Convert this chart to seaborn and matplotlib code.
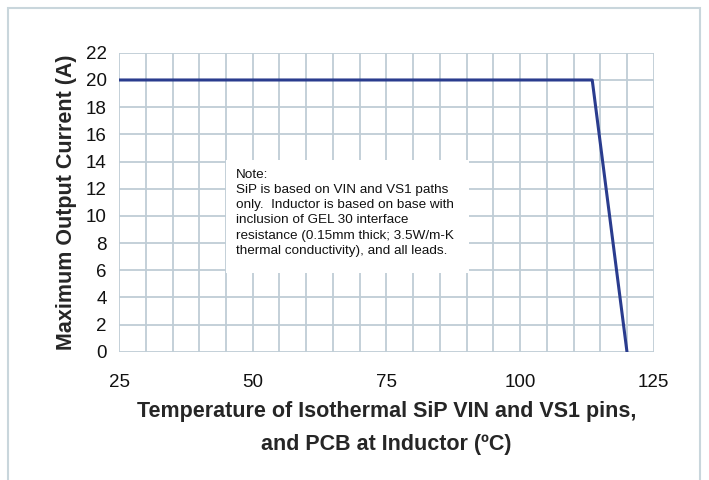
import numpy as np
import pandas as pd
import matplotlib
matplotlib.use("Agg")
import matplotlib.pyplot as plt
import seaborn as sns
from matplotlib.patches import Rectangle

# derating curve
temperature = [25, 113.5, 120]
current = [20, 20, 0]
x_ticks = [25, 50, 75, 100, 125]
y_ticks = list(range(0, 23, 2))
note_text = ("Note:\n"
             "SiP is based on VIN and VS1 paths\n"
             "only.  Inductor is based on base with\n"
             "inclusion of GEL 30 interface\n"
             "resistance (0.15mm thick; 3.5W/m-K\n"
             "thermal conductivity), and all leads.")

GRID = '#bfcdd6'
LINE = '#2a3c8e'

sns.set_style("white")
plt.rcParams['font.family'] = ['Liberation Sans', 'DejaVu Sans']

df = pd.DataFrame({"temp": temperature, "current": current})

fig = plt.figure(figsize=(7.09, 4.80), dpi=100)
ax = fig.add_axes([0.168, 0.267, 0.754, 0.623])

sns.lineplot(data=df, x="temp", y="current", ax=ax, color=LINE, linewidth=2.2)

ax.set_xlim(25, 125)
ax.set_ylim(0, 22)
ax.set_xticks(x_ticks)
ax.set_xticks(np.arange(25, 126, 5), minor=True)
ax.set_yticks(y_ticks)
ax.grid(True, which='both', color=GRID, linewidth=1.3)
ax.set_axisbelow(True)
for s in ax.spines.values():
    s.set_visible(False)
ax.tick_params(axis='both', which='both', length=5, color=GRID, width=1.3,
               labelsize=13.5, labelcolor='#111111')
ax.tick_params(axis='x', which='major', pad=11)
ax.tick_params(axis='y', which='major', pad=4)

ax.set_xlabel("Temperature of Isothermal SiP VIN and VS1 pins,\nand PCB at Inductor (ºC)",
              fontsize=15.5, fontweight='bold', labelpad=7, linespacing=1.75)
ax.set_ylabel("Maximum Output Current (A)", fontsize=15.5, fontweight='bold', labelpad=6)

# note box
box = Rectangle((226 / 709, 1 - 273 / 480), (469 - 226) / 709, (273 - 160) / 480,
                transform=fig.transFigure, facecolor='white', edgecolor='none', zorder=5)
fig.patches.append(box)
fig.text(236 / 709, 1 - 169 / 480, note_text, fontsize=9.7, va='top', ha='left',
         linespacing=1.35, color='#111111', zorder=6)

# outer frame
frame = Rectangle((8 / 709, -10 / 480), 692 / 709, 482 / 480, transform=fig.transFigure,
                  facecolor='none', edgecolor='#c9d6dc', linewidth=1.5)
fig.patches.append(frame)

fig.savefig("out.png", dpi=100)
